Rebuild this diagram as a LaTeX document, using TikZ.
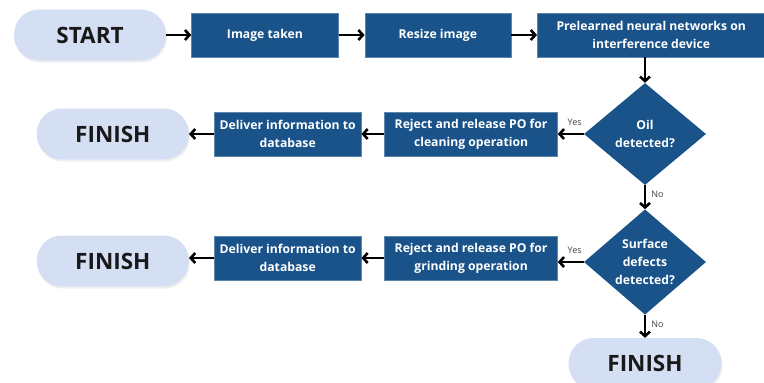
\documentclass[tikz,border=0pt]{standalone}
\usepackage{fontspec}
\setmainfont{Open Sans}
\usepackage{tikz}
\usetikzlibrary{positioning, shapes.geometric, arrows.meta, shadows}
\definecolor{boxblue}{HTML}{19538A}
\definecolor{pillblue}{HTML}{D5DFF4}
\definecolor{labelgray}{HTML}{404040}
\tikzset{
  box/.style={fill=boxblue, draw=boxblue!70!white, line width=0.4pt,
              text=white, font=\bfseries\fontsize{12.2}{18}\selectfont,
              minimum height=44pt, align=center, inner sep=1pt},
  pill/.style={fill=pillblue, rounded corners=25pt, text=black!90,
               font=\bfseries\fontsize{22.5}{26}\selectfont,
               minimum width=152pt, minimum height=51pt,
               drop shadow={opacity=0.12, shadow xshift=1pt, shadow yshift=-2pt}},
  decision/.style={diamond, fill=boxblue, text=white,
                   font=\bfseries\fontsize{12.2}{18}\selectfont,
                   minimum width=122pt, minimum height=102pt,
                   align=center, inner sep=0pt},
  arrow/.style={-{Straight Barb[length=4.5pt, width=10pt]}, line width=2.6pt},
  answer/.style={font=\fontsize{9}{11}\selectfont, text=labelgray, inner sep=1pt}
}

\begin{document}
\begin{tikzpicture}[x=1pt, y=-1pt]
    \clip (0,0) rectangle (764,383);
    \fill[white] (0,0) rectangle (764,383);

    \node[pill] (start) at (90,35) {START};
    \node[box, minimum width=147pt, right=25pt of start] (img) {Image taken};
    \node[box, minimum width=146pt, right=26pt of img] (rsz) {Resize image};
    \node[box, minimum width=228pt, right=26pt of rsz] (net) {Prelearned neural networks on\\interference device};
    \node[decision] (oil) at (645,134) {Oil\\detected?};
    \node[box, minimum width=173pt, left=26pt of oil] (clean) {Reject and release PO for\\cleaning operation};
    \node[box, minimum width=147pt, left=23pt of clean] (del1) {Deliver information to\\database};
    \node[pill, left=25pt of del1] (fin1) {FINISH};
    \node[decision, below=24pt of oil] (surf) {Surface\\defects\\detected?};
    \node[box, minimum width=173pt, left=26pt of surf, yshift=4pt] (grind) {Reject and release PO for\\grinding operation};
    \node[box, minimum width=147pt, left=23pt of grind] (del2) {Deliver information to\\database};
    \node[pill, left=25pt of del2, yshift=-3pt] (fin2) {FINISH};
    \node[pill, minimum width=153pt, below=23pt of surf] (fin3) {FINISH};

    \draw[arrow] (start) -- (img);
    \draw[arrow] (img) -- (rsz);
    \draw[arrow] (rsz) -- (net);
    \draw[arrow] (net.south -| oil) -- (oil);
    \draw[arrow] (oil) -- node[answer, pos=0.35, above=6pt] {Yes} (clean);
    \draw[arrow] (clean) -- (del1);
    \draw[arrow] (del1) -- (fin1);
    \draw[arrow] (oil) -- node[answer, pos=0.4, right=4pt] {No} (surf);
    \draw[arrow] (surf) -- node[answer, pos=0.35, above=6pt] {Yes} (surf -| grind.east);
    \draw[arrow] (grind) -- (del2);
    \draw[arrow] (del2) -- (del2 -| fin2.east);
    \draw[arrow] (surf) -- node[answer, pos=0.4, right=4pt] {No} (fin3);
\end{tikzpicture}
\end{document}
